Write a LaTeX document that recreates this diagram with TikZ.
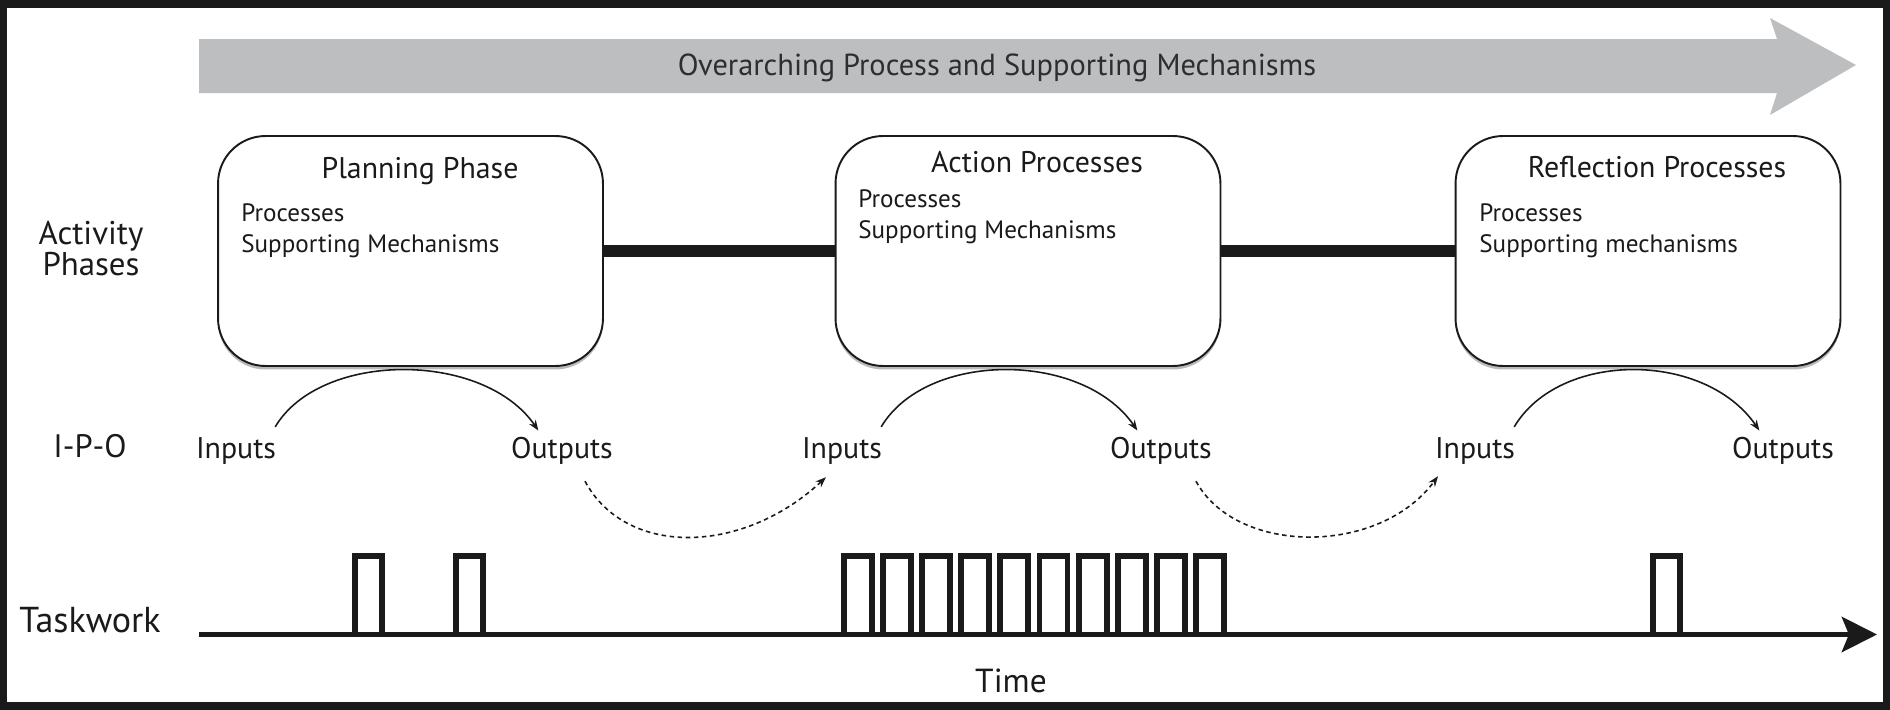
\documentclass[tikz,border=0pt]{standalone}
\usepackage{fontspec}
\setmainfont{PT Sans}
\usetikzlibrary{arrows.meta,shadows}

\definecolor{bandgris}{HTML}{BDBEC0}
\definecolor{encre}{HTML}{1A1A1A}
\definecolor{bandtexte}{HTML}{2E2E2E}

% let two-line labels sit closer than their glyphs would allow
\newcommand\serrelignes{\lineskiplimit=-20pt\relax}

\begin{document}
\begin{tikzpicture}[x=0.02cm, y=-0.02cm,
  every node/.style={text=encre},
  phasebox/.style={draw=encre, line width=1.1pt, fill=white, rounded corners=0.95cm,
    minimum width=7.7cm, minimum height=4.6cm,
    drop shadow={shadow xshift=0pt, shadow yshift=-2pt, fill=black!45, opacity=.6}},
  phasetitle/.style={anchor=base, font=\fontsize{17}{20}\selectfont},
  phasebody/.style={anchor=north west, inner sep=0pt, align=left, font=\fontsize{14.3}{18}\selectfont},
  rowlabel/.style={align=center, font=\fontsize{18.7}{17.5}\selectfont\serrelignes},
  ipo/.style={anchor=base, font=\fontsize{17}{20}\selectfont},
  phaselink/.style={draw=encre, line width=6.3pt},
  ipoarc/.style={draw=encre, line width=0.9pt, -{Stealth[length=6pt,width=4.5pt]}},
  carryarc/.style={ipoarc, dash pattern=on 2.6pt off 2pt},
  taskpulse/.style={draw=encre, line width=3.4pt},
  timeaxis/.style={draw=encre, line width=3.1pt, -{Stealth[length=20pt,width=20pt,inset=4pt]}}
]
\useasboundingbox (0,0) rectangle (1890,710);
\draw[encre, line width=4pt] (3.5,4) rectangle (1886.5,706);

% process band
\fill[bandgris] (199,39) -- (1777,39) -- (1770,18) -- (1856,65) -- (1770,115) -- (1777,93) -- (199,93) -- cycle;
\node[anchor=base, text=bandtexte, font=\fontsize{17.3}{20}\selectfont] (band) at (997,75)
  {Overarching Process and Supporting Mechanisms};

% row labels
\node[rowlabel, anchor=north, inner sep=0pt] (lblphase) at (91,221) {Activity\\Phases};
\node[rowlabel, anchor=base, font=\fontsize{18.5}{20}\selectfont] (lblipo) at (90,457) {I-P-O};
\node[rowlabel, anchor=base, font=\fontsize{20.5}{22}\selectfont] (lbltask) at (90,632) {Taskwork};

% phases
\node[phasebox] (plan) at (410.5,251) {};
\node[phasebox] (act) at (1028,251) {};
\node[phasebox] (refl) at (1648,251) {};
\draw[phaselink] (plan) -- (act);
\draw[phaselink] (act) -- (refl);

\node[phasetitle] (plantitle) at (420,178) {Planning Phase};
\node[phasetitle] (acttitle) at (1037,172) {Action Processes};
\node[phasetitle] (refltitle) at (1657,177) {Reflection Processes};
\node[phasebody] (planbody) at (241,203) {Processes\\Supporting Mechanisms};
\node[phasebody] (actbody) at (858,189) {Processes\\Supporting Mechanisms};
\node[phasebody] (reflbody) at (1479,203) {Processes\\Supporting mechanisms};

% inputs and outputs
\node[ipo] (in1) at (236,458) {Inputs};
\node[ipo] (out1) at (562,458) {Outputs};
\node[ipo] (in2) at (842,458) {Inputs};
\node[ipo] (out2) at (1161,458) {Outputs};
\node[ipo] (in3) at (1475,458) {Inputs};
\node[ipo] (out3) at (1783,458) {Outputs};

\draw[ipoarc] ([shift={(-7,-4)}]in1.north east) .. controls +(45,-76) and +(-55,-80) .. (out1.140);
\draw[ipoarc] ([shift={(-7,-4)}]in2.north east) .. controls +(45,-76) and +(-55,-80) .. (out2.140);
\draw[ipoarc] ([shift={(-7,-4)}]in3.north east) .. controls +(45,-76) and +(-55,-80) .. (out3.140);
\draw[carryarc] ([shift={(23,11)}]out1.south) .. controls +(40,75) and +(-85,79) .. ([shift={(-16,7)}]in2.south);
\draw[carryarc] ([shift={(35,11)}]out2.south) .. controls +(40,74) and +(-59,80) .. ([shift={(-37,6)}]in3.south);

% taskwork
\foreach \x in {355,456,1653}
  \draw[taskpulse] (\x,634) |- (\x+27,556) -- (\x+27,634);
\foreach \i in {0,...,9}
  \draw[taskpulse] ({844+39.1*\i},634) |- ({872+39.1*\i},556) -- ({872+39.1*\i},634);

\coordinate (tstart) at (199,634.5);
\coordinate (tend) at (1877,634.5);
\draw[timeaxis] (tstart) -- (tend);
\node[anchor=base, font=\fontsize{19}{20}\selectfont] (time) at (1011,692) {Time};
\end{tikzpicture}
\end{document}
